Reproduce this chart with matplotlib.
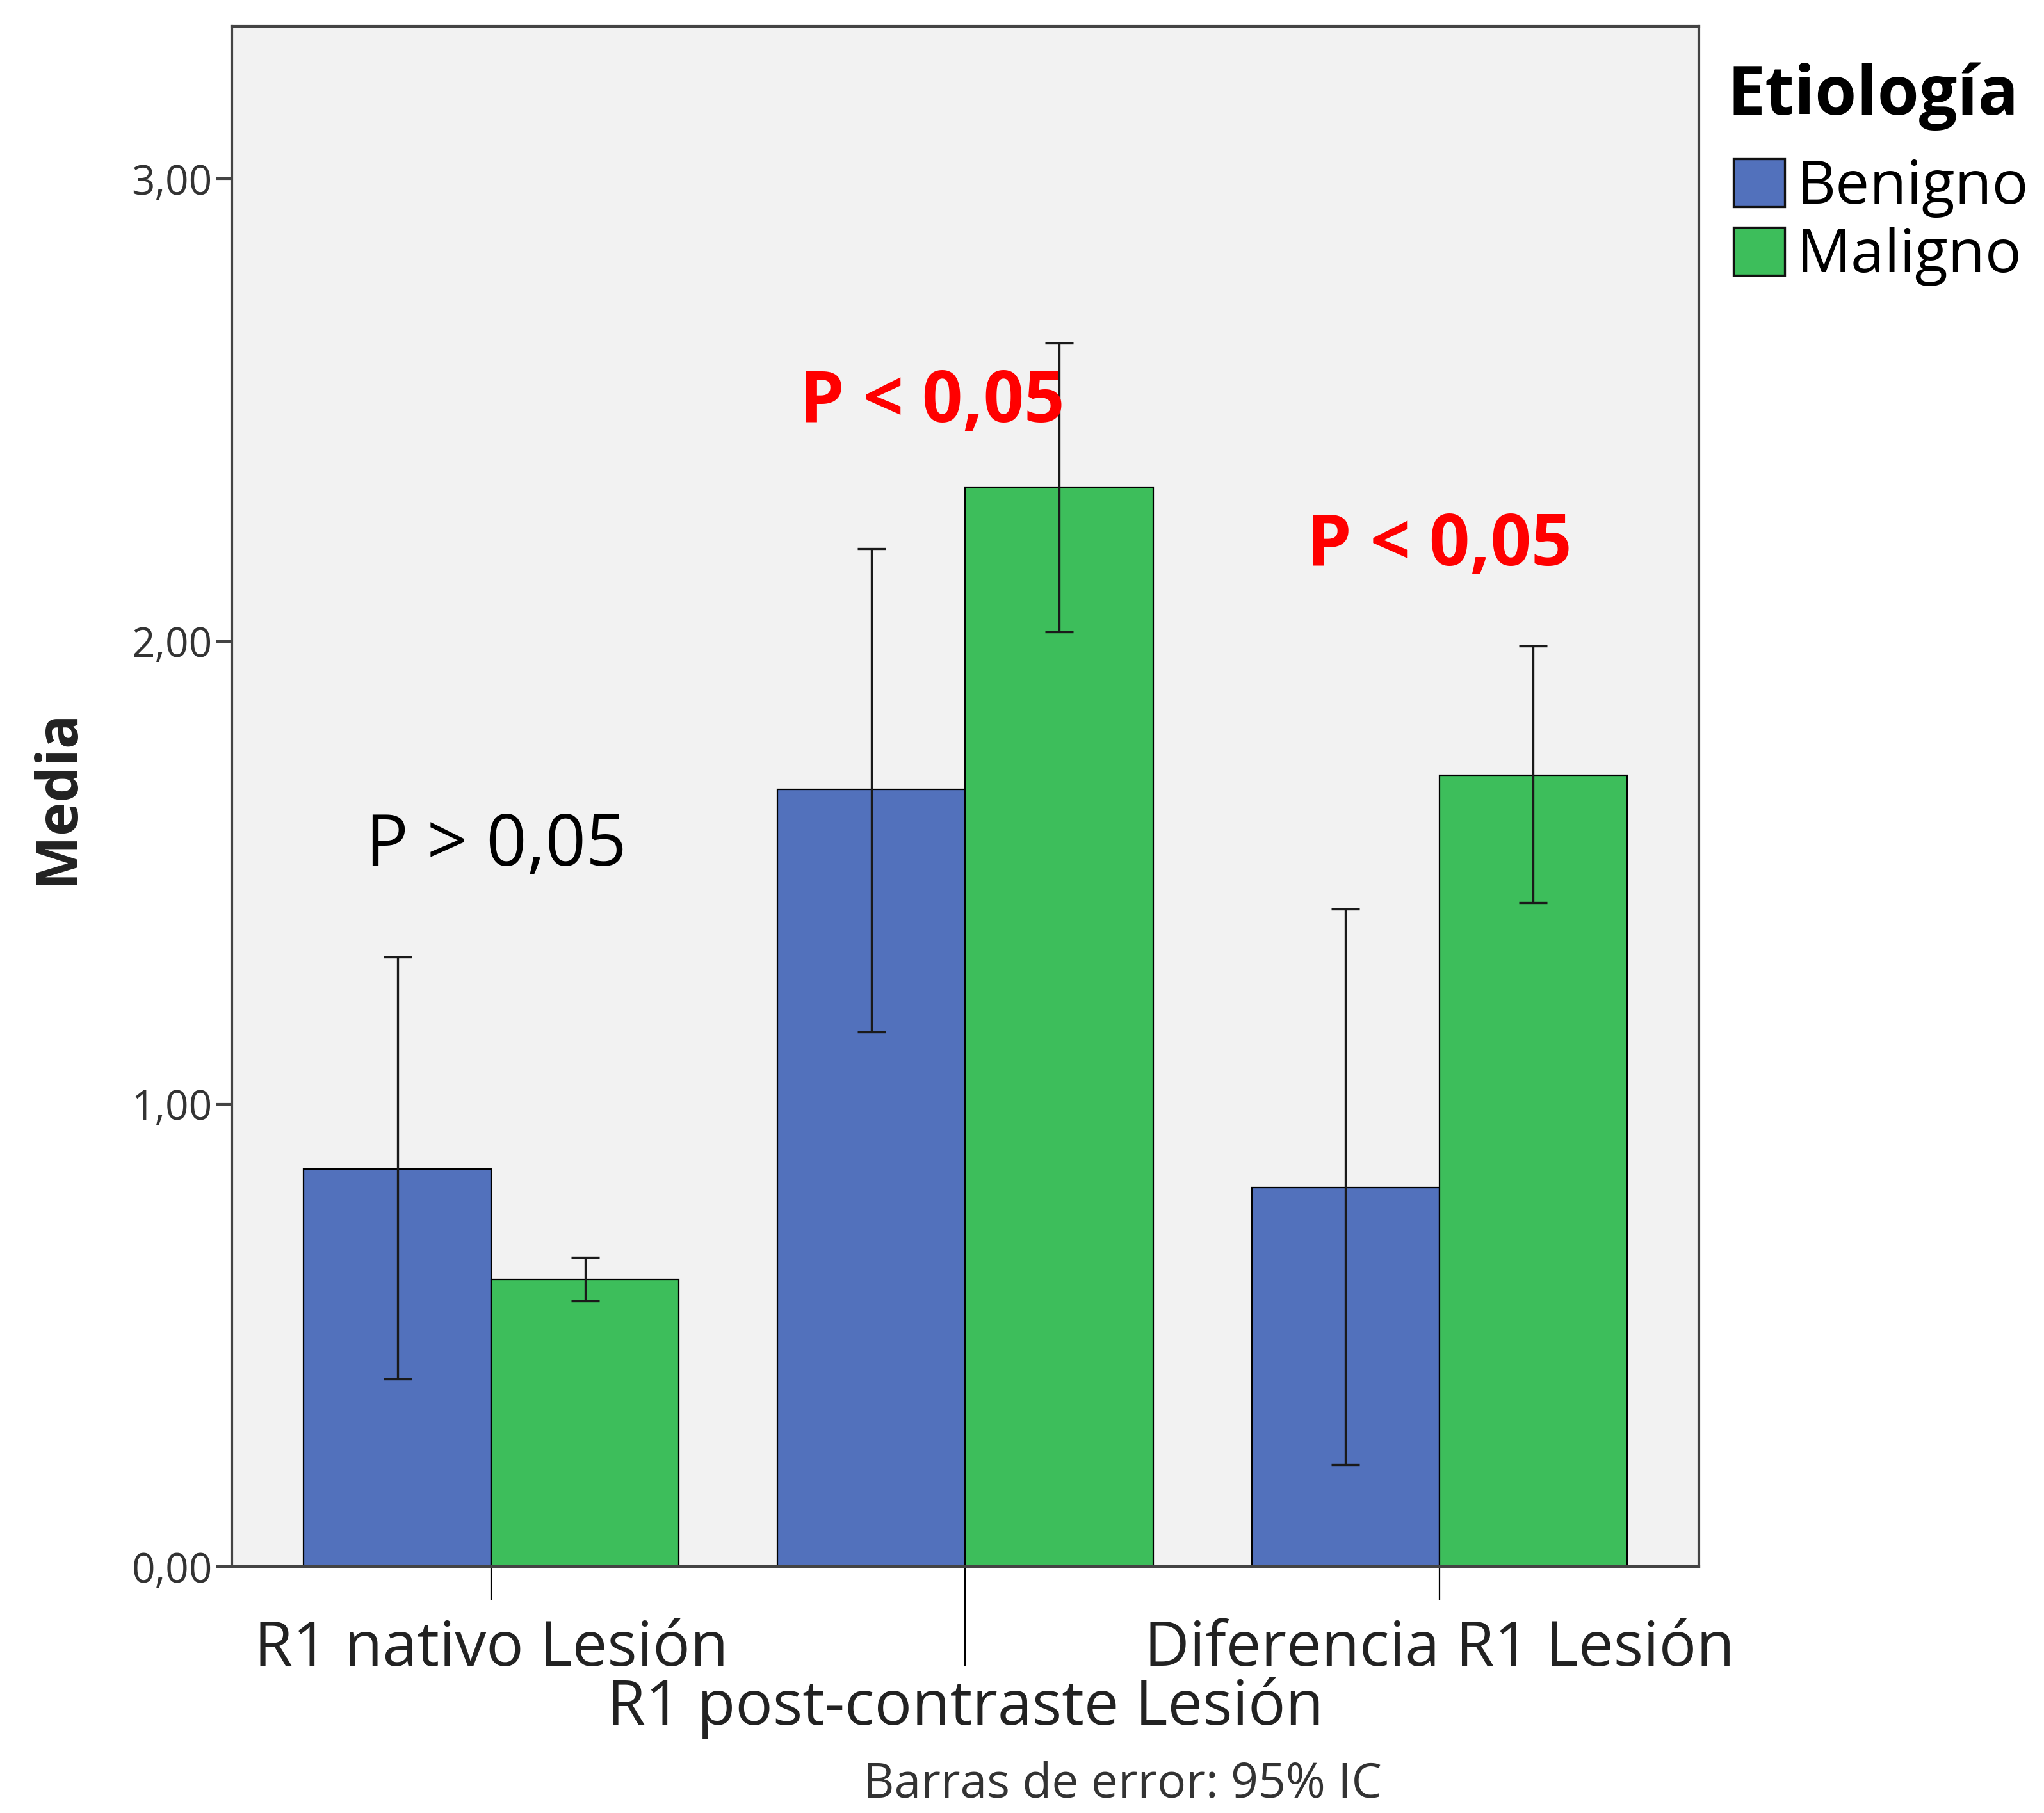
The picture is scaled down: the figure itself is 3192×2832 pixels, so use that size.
import matplotlib
matplotlib.use("Agg")
import matplotlib.pyplot as plt
import numpy as np
from matplotlib.patches import Patch
from matplotlib.ticker import FixedLocator, FuncFormatter

plt.rcParams['font.family'] = ['Open Sans', 'DejaVu Sans']

categorias = ["R1 nativo Lesión", "R1 post-contraste Lesión", "Diferencia R1 Lesión"]
grupos = ["Benigno", "Maligno"]
colores = ["#5271BC", "#3DBE5B"]

# medias y limites del IC 95%
benigno_media = [0.86, 1.68, 0.82]
benigno_ic_inf = [0.406, 1.156, 0.22]
benigno_ic_sup = [1.317, 2.20, 1.421]
maligno_media = [0.62, 2.334, 1.711]
maligno_ic_inf = [0.575, 2.021, 1.435]
maligno_ic_sup = [0.668, 2.645, 1.99]

# texto de significacion sobre cada categoria
p_textos = ["P > 0,05", "P < 0,05", "P < 0,05"]
p_x = [0.01, 0.93, 2.0]
p_y = [1.556, 2.515, 2.205]
p_colores = ["black", "red", "red"]
p_negrita = ["normal", "bold", "bold"]

fig = plt.figure(figsize=(15.96, 14.16), dpi=200)
ax = fig.add_axes([0.1135, 0.1359, 0.7175, 0.8497])
ax.set_facecolor("#F2F2F2")

x = np.arange(len(categorias))
ancho = 0.396
series = [(benigno_media, benigno_ic_inf, benigno_ic_sup),
          (maligno_media, maligno_ic_inf, maligno_ic_sup)]
for i, (media, inf, sup) in enumerate(series):
    media = np.array(media)
    pos = x + (i - 0.5) * ancho
    ax.bar(pos, media, width=ancho, color=colores[i], edgecolor="black",
           linewidth=0.8, zorder=2)
    yerr = [media - np.array(inf), np.array(sup) - media]
    ax.errorbar(pos, media, yerr=yerr, fmt="none", ecolor="#1a1a1a",
                elinewidth=1.2, capsize=8, capthick=1.2, zorder=3)

for t, px, py, c, w in zip(p_textos, p_x, p_y, p_colores, p_negrita):
    ax.text(px, py, t, color=c, fontsize=40, fontweight=w,
            ha="center", va="center", zorder=4)

ax.set_xlim(-0.547, 2.547)
ax.set_ylim(0, 3.33)

ax.yaxis.set_major_locator(FixedLocator([0, 1, 2, 3]))
ax.yaxis.set_major_formatter(FuncFormatter(lambda v, p: f"{v:.2f}".replace(".", ",")))
ax.tick_params(axis="y", direction="out", length=9, width=1.5, color="#444444",
               labelsize=23, labelcolor="#333333", pad=2)

# categorias 1 y 3 con marca corta, la central con marca larga
ax.xaxis.set_major_locator(FixedLocator([0, 2]))
ax.xaxis.set_minor_locator(FixedLocator([1]))
ax.set_xticklabels([categorias[0], categorias[2]])
ax.set_xticklabels([categorias[1]], minor=True)
ax.tick_params(axis="x", which="major", direction="out", length=19, width=0.8,
               color="black", labelsize=35, labelcolor="#222222", pad=10)
ax.tick_params(axis="x", which="minor", direction="out", length=56, width=0.8,
               color="black", labelsize=35, labelcolor="#222222", pad=6)

for s in ax.spines.values():
    s.set_color("#444444")
    s.set_linewidth(1.5)

ax.set_ylabel("Media", fontsize=32, fontweight="bold", color="#222222", labelpad=25)

fig.text(0.549, 0.0151, "Barras de error: 95% IC", fontsize=27, color="#333333",
         ha="center", va="center")

# leyenda: titulo aparte y cuadros de color
fig.text(0.845, 0.9367, "Etiología", fontsize=38, fontweight="bold",
         ha="left", va="baseline")
handles = [Patch(facecolor=c, edgecolor="#111111", linewidth=1.2) for c in colores]
fig.legend(handles, grupos, loc="upper left", bbox_to_anchor=(0.842, 0.9195),
           frameon=False, fontsize=34, handlelength=0.85, handleheight=0.85,
           handletextpad=0.2, labelspacing=0.15, borderpad=0.2, borderaxespad=0)

fig.savefig("out.png", dpi=200, facecolor="white")
